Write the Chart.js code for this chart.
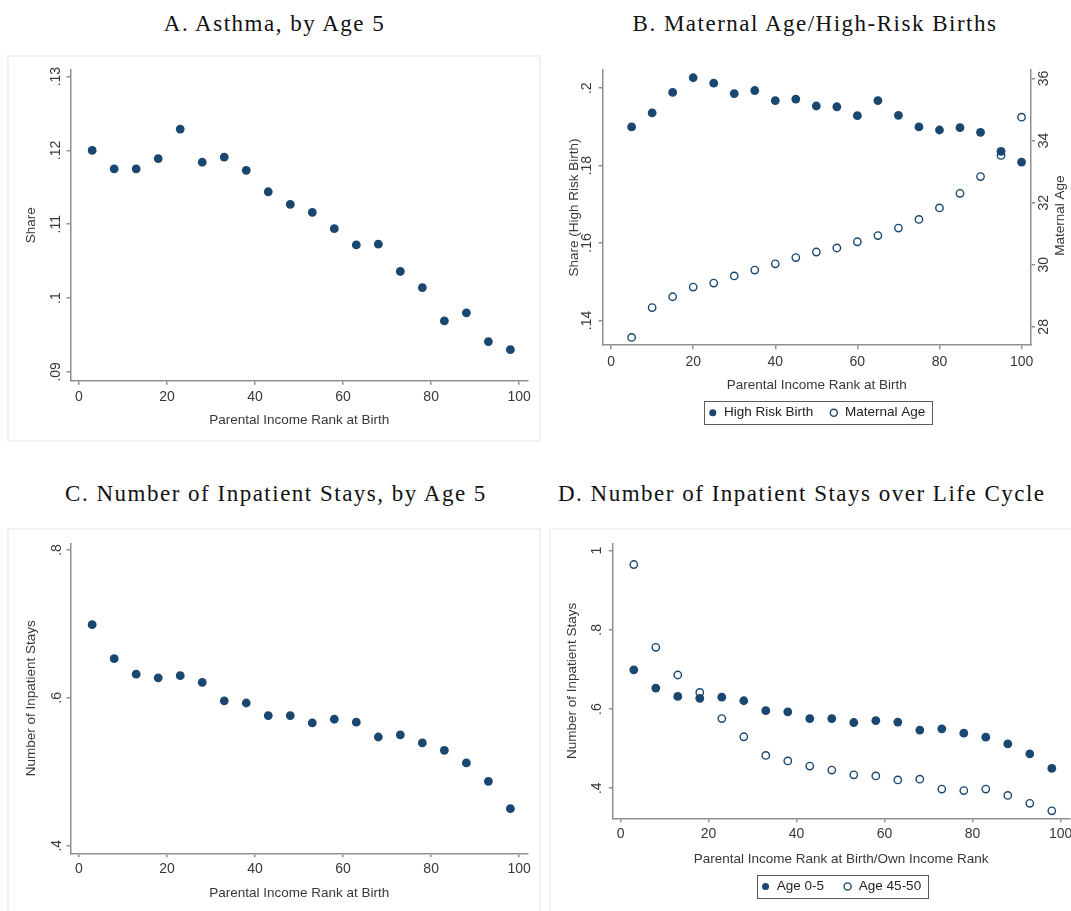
<!DOCTYPE html>
<html>
<head>
<meta charset="utf-8">
<title>Health outcomes by parental income rank</title>
<script src="https://cdn.jsdelivr.net/npm/chart.js@4.4.1/dist/chart.umd.min.js"></script>
<style>
  html, body { margin: 0; padding: 0; background: #fff; }
  body { width: 1071px; height: 911px; position: relative; overflow: hidden; }
  .panel-title {
    position: absolute;
    font-family: 'Liberation Serif', 'Times New Roman', serif;
    font-size: 23px;
    letter-spacing: 1.5px;
    line-height: 24px;
    color: #111;
    white-space: nowrap;
  }
  .frame { position: absolute; border: 2px solid #f1f1f1; box-sizing: border-box; }
  canvas { position: absolute; }
</style>
</head>
<body>

<div class="frame" style="left:7px;top:55px;width:534px;height:387px"></div>
<div class="frame" style="left:7px;top:528px;width:534px;height:390px"></div>
<div class="frame" style="left:549px;top:528px;width:530px;height:390px"></div>

<div class="panel-title" style="left:0;width:549px;top:12px;text-align:center">A. Asthma, by Age 5</div>
<div class="panel-title" style="left:559px;width:512px;top:12px;text-align:center">B. Maternal Age/High-Risk Births</div>
<div class="panel-title" style="left:0;width:552px;top:482px;text-align:center">C. Number of Inpatient Stays, by Age 5</div>
<div class="panel-title" style="left:558px;top:482px">D. Number of Inpatient Stays over Life Cycle</div>

<canvas id="asthmaChart" width="545" height="400" style="left:0;top:50px"></canvas>
<canvas id="maternalChart" width="526" height="400" style="left:545px;top:50px"></canvas>
<canvas id="staysChart" width="545" height="391" style="left:0;top:520px"></canvas>
<canvas id="lifeCycleChart" width="555" height="391" style="left:545px;top:520px"></canvas>

<script>
// Data: income rank bins (x) and outcomes
const rankBins = [3, 8, 13, 18, 23, 28, 33, 38, 43, 48, 53, 58, 63, 68, 73, 78, 83, 88, 93, 98];
const rankBinsB = [5, 10, 15, 20, 25, 30, 35, 40, 45, 50, 55, 60, 65, 70, 75, 80, 85, 90, 95, 100];

const asthmaShare = [0.1200, 0.1175, 0.1175, 0.1189, 0.1229, 0.1184, 0.1191, 0.1173, 0.1144, 0.1127,
                     0.1116, 0.1094, 0.1072, 0.1073, 0.1036, 0.1014, 0.0969, 0.0980, 0.0941, 0.0930];

const highRiskShare = [0.1900, 0.1936, 0.1989, 0.2027, 0.2013, 0.1986, 0.1994, 0.1968, 0.1972, 0.1954,
                       0.1952, 0.1929, 0.1968, 0.1930, 0.1900, 0.1892, 0.1898, 0.1886, 0.1837, 0.1809];
const maternalAge = [27.66, 28.62, 28.97, 29.28, 29.41, 29.64, 29.83, 30.03, 30.23, 30.41,
                     30.54, 30.74, 30.94, 31.18, 31.46, 31.83, 32.30, 32.84, 33.52, 34.75];

const staysAge0to5 = [0.699, 0.653, 0.632, 0.627, 0.630, 0.621, 0.596, 0.593, 0.576, 0.576,
                      0.566, 0.571, 0.567, 0.547, 0.550, 0.539, 0.529, 0.512, 0.487, 0.450];
const staysAge45to50 = [0.965, 0.756, 0.686, 0.642, 0.576, 0.530, 0.483, 0.469, 0.456, 0.446,
                        0.434, 0.431, 0.421, 0.423, 0.398, 0.394, 0.398, 0.382, 0.362, 0.343];

// Tick values
const rankTicks = [0, 20, 40, 60, 80, 100];
const asthmaTicks = [0.09, 0.10, 0.11, 0.12, 0.13];
const highRiskTicks = [0.14, 0.16, 0.18, 0.20];
const maternalAgeTicks = [28, 30, 32, 34, 36];
const staysTicks = [0.4, 0.6, 0.8];
const lifeCycleTicks = [0.4, 0.6, 0.8, 1];

// Look and feel
const NAVY = '#1a476f';
const AXIS_GREY = '#8f8f8f';
const TEXT_GREY = '#383838';

Chart.defaults.font.family = "'Liberation Sans', Arial, sans-serif";
Chart.defaults.color = TEXT_GREY;
Chart.defaults.animation = false;

// Stata style labels: .12 instead of 0.12
function stataLabel(v) {
  return String(Number(Number(v).toFixed(4))).replace(/^0\./, '.');
}

function toPoints(xs, ys) {
  return xs.map((x, i) => ({ x: x, y: ys[i] }));
}

function setTicks(values) {
  return function(scale) {
    scale.ticks = values.map(v => ({ value: v }));
  };
}

function filledSeries(label, points, axisId) {
  return {
    label: label,
    data: points,
    yAxisID: axisId || 'y',
    pointStyle: 'circle',
    pointRadius: 4.4,
    pointHoverRadius: 4.4,
    backgroundColor: NAVY,
    borderColor: NAVY,
    borderWidth: 0
  };
}

function hollowSeries(label, points, axisId) {
  return {
    label: label,
    data: points,
    yAxisID: axisId || 'y',
    pointStyle: 'circle',
    pointRadius: 3.7,
    pointHoverRadius: 3.7,
    backgroundColor: '#ffffff',
    borderColor: NAVY,
    borderWidth: 1.4
  };
}

function xScale(o) {
  return {
    type: 'linear',
    position: 'bottom',
    min: o.min,
    max: o.max,
    afterBuildTicks: setTicks(o.ticks),
    afterFit: s => { s.height = o.height; },
    ticks: { color: TEXT_GREY, font: { size: 14 }, padding: o.tickPad, maxRotation: 0, autoSkip: false,
             callback: v => stataLabel(v) },
    grid: { drawOnChartArea: false, drawTicks: true, tickLength: 4, color: AXIS_GREY, lineWidth: 1.5 },
    border: { display: true, color: AXIS_GREY, width: 1.5 },
    title: { display: true, text: o.title, color: TEXT_GREY, font: { size: 13.5 },
             padding: { top: 0, bottom: o.titlePad } }
  };
}

function yScale(o) {
  return {
    type: 'linear',
    position: o.position || 'left',
    min: o.min,
    max: o.max,
    afterBuildTicks: setTicks(o.ticks),
    afterFit: s => { s.width = o.width; },
    ticks: { color: TEXT_GREY, font: { size: 14 }, padding: o.tickPad, minRotation: 90, maxRotation: 90,
             crossAlign: 'center', autoSkip: false, callback: v => stataLabel(v) },
    grid: { drawOnChartArea: false, drawTicks: true, tickLength: 4, color: AXIS_GREY, lineWidth: 1.5 },
    border: { display: true, color: AXIS_GREY, width: 1.5 },
    title: { display: !!o.title, text: o.title || '', color: TEXT_GREY, font: { size: 13.5 },
             padding: { top: o.titlePad || 0, bottom: 0 } }
  };
}

function legendOptions(pad) {
  return {
    display: true,
    position: 'bottom',
    fullSize: false,
    labels: { usePointStyle: true, boxWidth: 9, boxHeight: 5, padding: pad, color: '#222', font: { size: 13.5 } }
  };
}

// Draws the frame round the legend, like Stata does
const legendBoxPlugin = {
  id: 'legendBox',
  afterDraw(chart) {
    const legend = chart.legend;
    if (!legend || !legend.options.display || !legend.legendHitBoxes || !legend.legendHitBoxes.length) return;
    const boxes = legend.legendHitBoxes;
    const first = boxes[0];
    const last = boxes[boxes.length - 1];
    const cy = first.top + first.height / 2;
    const left = Math.round(first.left - 4) + 0.5;
    const right = Math.round(last.left + last.width + 6.5) + 0.5;
    const top = Math.round(cy - 11.5) + 0.5;
    const ctx = chart.ctx;
    ctx.save();
    ctx.strokeStyle = '#5a5a5a';
    ctx.lineWidth = 1;
    ctx.strokeRect(left, top, right - left, 23);
    ctx.restore();
  }
};

// Right axis title reading bottom to top
const rightTitlePlugin = {
  id: 'rightTitle',
  afterDraw(chart, args, opts) {
    if (!opts || !opts.text) return;
    const scale = chart.scales[opts.scaleId];
    const area = chart.chartArea;
    const ctx = chart.ctx;
    ctx.save();
    ctx.translate(scale.left + opts.offset, (area.top + area.bottom) / 2 + (opts.shift || 0));
    ctx.rotate(-Math.PI / 2);
    ctx.font = "13.5px 'Liberation Sans', Arial, sans-serif";
    ctx.fillStyle = TEXT_GREY;
    ctx.textAlign = 'center';
    ctx.textBaseline = 'middle';
    ctx.fillText(opts.text, 0, 0);
    ctx.restore();
  }
};

let asthmaChart = null;
let maternalChart = null;
let staysChart = null;
let lifeCycleChart = null;

function initializeCharts() {
  // A. Asthma
  asthmaChart = new Chart(document.getElementById('asthmaChart'), {
    type: 'scatter',
    data: { datasets: [filledSeries('Asthma', toPoints(rankBins, asthmaShare))] },
    options: {
      responsive: false,
      layout: { padding: { left: 0, top: 20, right: 17, bottom: 0 } },
      plugins: { legend: { display: false }, tooltip: { enabled: false } },
      scales: {
        x: xScale({ min: -1.9, max: 102, ticks: rankTicks, height: 69.3, tickPad: 3.6,
                    title: 'Parental Income Rank at Birth', titlePad: 21.2 }),
        y: yScale({ min: 0.0888, max: 0.1309, ticks: asthmaTicks, width: 70.6, tickPad: 0.9,
                    title: 'Share', titlePad: 22.9 })
      }
    }
  });

  // B. Maternal age / high-risk births
  maternalChart = new Chart(document.getElementById('maternalChart'), {
    type: 'scatter',
    data: {
      datasets: [
        filledSeries('High Risk Birth', toPoints(rankBinsB, highRiskShare), 'y'),
        hollowSeries('Maternal Age', toPoints(rankBinsB, maternalAge), 'y2')
      ]
    },
    options: {
      responsive: false,
      layout: { padding: { left: 0, top: 20, right: 0, bottom: 20.5 } },
      plugins: {
        legend: legendOptions(16),
        tooltip: { enabled: false },
        rightTitle: { text: 'Maternal Age', scaleId: 'y2', offset: 29, shift: 8 }
      },
      scales: {
        x: xScale({ min: -2.07, max: 102.3, ticks: rankTicks, height: 44.8, tickPad: 4.4,
                    title: 'Parental Income Rank at Birth', titlePad: -3.3 }),
        y: yScale({ min: 0.1336, max: 0.2047, ticks: highRiskTicks, width: 57.6, tickPad: 1.5,
                    title: 'Share (High Risk Birth)', titlePad: 20.8 }),
        y2: yScale({ position: 'right', min: 27.41, max: 36.27, ticks: maternalAgeTicks, width: 40,
                     tickPad: 1.2 })
      }
    },
    plugins: [legendBoxPlugin, rightTitlePlugin]
  });

  // C. Inpatient stays by age 5
  staysChart = new Chart(document.getElementById('staysChart'), {
    type: 'scatter',
    data: { datasets: [filledSeries('Age 0-5', toPoints(rankBins, staysAge0to5))] },
    options: {
      responsive: false,
      layout: { padding: { left: 0, top: 23.3, right: 17, bottom: 0 } },
      plugins: { legend: { display: false }, tooltip: { enabled: false } },
      scales: {
        x: xScale({ min: -1.9, max: 102, ticks: rankTicks, height: 57.7, tickPad: 3.6,
                    title: 'Parental Income Rank at Birth', titlePad: 9.6 }),
        y: yScale({ min: 0.3897, max: 0.809, ticks: staysTicks, width: 70.6, tickPad: 4,
                    title: 'Number of Inpatient Stays', titlePad: 22.9 })
      }
    }
  });

  // D. Inpatient stays over the life cycle
  lifeCycleChart = new Chart(document.getElementById('lifeCycleChart'), {
    type: 'scatter',
    data: {
      datasets: [
        filledSeries('Age 0-5', toPoints(rankBins, staysAge0to5)),
        hollowSeries('Age 45-50', toPoints(rankBins, staysAge45to50))
      ]
    },
    options: {
      responsive: false,
      layout: { padding: { left: 0, top: 23.3, right: 30.6, bottom: 7.8 } },
      plugins: { legend: legendOptions(19), tooltip: { enabled: false } },
      scales: {
        x: xScale({ min: -1.77, max: 102, ticks: rankTicks, height: 42.2, tickPad: 3.6,
                    title: 'Parental Income Rank at Birth/Own Income Rank', titlePad: -6.2 }),
        y: yScale({ min: 0.3236, max: 1.0186, ticks: lifeCycleTicks, width: 67.8, tickPad: 5.4,
                    title: 'Number of Inpatient Stays', titlePad: 19.1 })
      }
    },
    plugins: [legendBoxPlugin]
  });
}

document.addEventListener('DOMContentLoaded', function() {
  initializeCharts();
});
</script>
</body>
</html>
